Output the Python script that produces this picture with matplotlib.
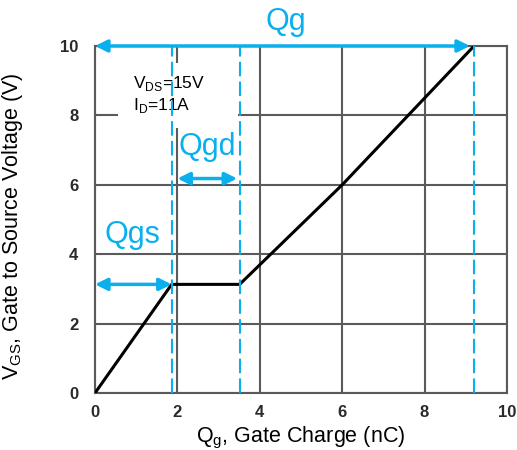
import matplotlib
matplotlib.use("Agg")
import matplotlib.pyplot as plt
from matplotlib.patches import Rectangle

# Data
charge_nc = [0.0, 1.86, 3.51, 6.0, 9.2]
vgs_v = [0.0, 3.13, 3.13, 6.0, 10.0]
marker_x = [1.86, 3.51, 9.2]
x_ticks = [0, 2, 4, 6, 8, 10]
y_ticks = [0, 2, 4, 6, 8, 10]
qg_span = (0.0, 9.1, 10.0)
qgs_span = (0.0, 1.86, 3.13)
qgd_span = (2.0, 3.45, 6.18)

plt.rcParams['font.family'] = ['Liberation Sans', 'DejaVu Sans']
BLUE = '#0AB0EE'
GRID = '#5a5a5a'

fig = plt.figure(figsize=(5.17, 4.5), dpi=100)
ax = fig.add_axes([0.1838, 0.1267, 0.7969, 0.7711])
ax.set_xlim(0, 10)
ax.set_ylim(0, 10)
ax.set_xticks(x_ticks)
ax.set_yticks(y_ticks)
ax.tick_params(length=0, labelsize=12)
ax.tick_params(axis='x', pad=9)
ax.tick_params(axis='y', pad=12)
for lab in ax.get_xticklabels() + ax.get_yticklabels():
    lab.set_fontweight('bold')
    lab.set_color('#2a2a2a')
for s in ax.spines.values():
    s.set_color(GRID)
    s.set_linewidth(1.5)
ax.grid(True, color=GRID, linewidth=1.5, zorder=1)
ax.set_axisbelow(True)

# White box behind conditions text
ax.add_patch(Rectangle((0.56, 7.65), 2.92, 1.85, facecolor='white',
                       edgecolor='none', zorder=1.5))
ax.text(0.92, 8.92, r'V$_{\mathregular{DS}}$=15V', fontsize=12.5, va='center',
        ha='left', zorder=3)
ax.text(0.92, 8.29, r'I$_{\mathregular{D}}$=11A', fontsize=12.5, va='center',
        ha='left', zorder=3)

# Curve
ax.plot(charge_nc, vgs_v, color='black', linewidth=2.2, zorder=4,
        solid_capstyle='butt')

# Dashed markers
for xv in marker_x:
    ax.axvline(xv, color=BLUE, linewidth=1.5, dashes=(7, 2.5), zorder=5)

# Arrows
for (x0, x1, yv) in [qg_span, qgs_span, qgd_span]:
    ax.annotate('', xy=(x1, yv), xytext=(x0, yv),
                arrowprops=dict(arrowstyle='<|-|>', color=BLUE, lw=2.5,
                                mutation_scale=18, shrinkA=0, shrinkB=0),
                zorder=6, annotation_clip=False)

ax.text(4.62, 10.7, 'Qg', color=BLUE, fontsize=22, ha='center',
        va='center', clip_on=False)
ax.text(2.72, 7.08, 'Qgd', color=BLUE, fontsize=22, ha='center', va='center',
        zorder=6)
ax.text(0.92, 4.55, 'Qgs', color=BLUE, fontsize=22, ha='center', va='center',
        zorder=6)

ax.set_xlabel(r'Q$_{\mathregular{g}}$, Gate Charge (nC)', fontsize=15.5,
              labelpad=3)
ax.set_ylabel(r'V$_{\mathregular{GS}}$, Gate to Source Voltage (V)',
              fontsize=15.5, labelpad=10)
ax.yaxis.set_label_coords(-0.17, 0.48)

fig.savefig('out.png', dpi=100)
